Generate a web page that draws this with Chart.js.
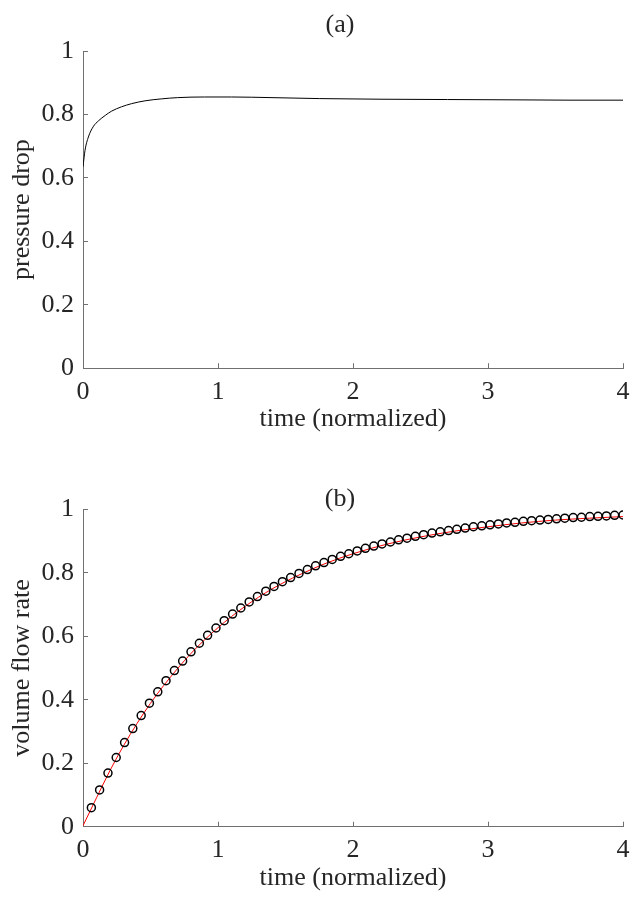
<!DOCTYPE html>
<html>
<head>
<meta charset="utf-8">
<script src="https://cdn.jsdelivr.net/npm/chart.js@4.4.1/dist/chart.umd.min.js"></script>
<style>
  html, body { margin: 0; padding: 0; background: #fff; overflow: hidden; }
  .panel { position: absolute; left: 0; width: 633px; height: 449px; }
  #panel-a { top: 0; }
  #panel-b { top: 449px; }
</style>
</head>
<body>
<div class="panel" id="panel-a"><canvas id="chart-a"></canvas></div>
<div class="panel" id="panel-b"><canvas id="chart-b"></canvas></div>
<script>
// ─── Data ─────────────────────────────────────────────────────────────────────

const xTicks = [0, 1, 2, 3, 4]
const yTicks = [0, 0.2, 0.4, 0.6, 0.8, 1]

// (a) pressure drop
const pressureTime = [0, 0.015, 0.04, 0.075, 0.115, 0.165, 0.21, 0.285, 0.36, 0.46, 0.58, 0.7, 0.9, 1.1, 1.4, 1.75, 2.2, 2.7, 3.2, 3.6, 4.0]
const pressureDrop = [0.635, 0.687, 0.729, 0.761, 0.780, 0.797, 0.810, 0.824, 0.834, 0.843, 0.849, 0.853, 0.855, 0.855, 0.853, 0.850, 0.848, 0.847, 0.846, 0.845, 0.845]

// (b) volume flow rate, markers
const flowTime = [
    0.062, 0.123, 0.185, 0.246, 0.308, 0.369, 0.431, 0.492, 0.554, 0.615,
    0.677, 0.738, 0.8, 0.862, 0.923, 0.985, 1.046, 1.108, 1.169, 1.231,
    1.292, 1.354, 1.415, 1.477, 1.538, 1.6, 1.662, 1.723, 1.785, 1.846,
    1.908, 1.969, 2.031, 2.092, 2.154, 2.215, 2.277, 2.338, 2.4, 2.462,
    2.523, 2.585, 2.646, 2.708, 2.769, 2.831, 2.892, 2.954, 3.015, 3.077,
    3.138, 3.2, 3.262, 3.323, 3.385, 3.446, 3.508, 3.569, 3.631, 3.692,
    3.754, 3.815, 3.877, 3.938, 4.0
]
const flowRate = [
    0.060, 0.116, 0.169, 0.218, 0.265, 0.309, 0.350, 0.389, 0.425, 0.460,
    0.492, 0.522, 0.551, 0.578, 0.603, 0.626, 0.649, 0.670, 0.689, 0.708,
    0.725, 0.742, 0.757, 0.772, 0.785, 0.798, 0.810, 0.822, 0.832, 0.842,
    0.852, 0.860, 0.869, 0.877, 0.884, 0.891, 0.897, 0.904, 0.909, 0.915,
    0.920, 0.925, 0.929, 0.933, 0.937, 0.941, 0.945, 0.948, 0.951, 0.954,
    0.957, 0.959, 0.962, 0.964, 0.966, 0.968, 0.970, 0.972, 0.974, 0.975,
    0.977, 0.978, 0.979, 0.981, 0.982
]

// (b) red reference curve
const fitTime = [0, 0.1, 0.2, 0.3, 0.4, 0.5, 0.6, 0.8, 1.0, 1.2, 1.4, 1.6, 1.8, 2.0, 2.25, 2.5, 2.75, 3.0, 3.25, 3.5, 3.75, 4.0]
const fitRate = [0.003, 0.091, 0.177, 0.255, 0.325, 0.389, 0.446, 0.546, 0.627, 0.694, 0.749, 0.793, 0.830, 0.860, 0.890, 0.913, 0.931, 0.945, 0.957, 0.966, 0.972, 0.977]

// ─── Common style ─────────────────────────────────────────────────────────────

const TEXT = '#262626'
const AXIS = '#707070'
const FONT = { family: '"Liberation Serif", "Times New Roman", serif', size: 26, lineHeight: 1.2 }

Chart.defaults.font.family = FONT.family
Chart.defaults.color = TEXT

const pts = (xs, ys) => xs.map((x, i) => ({ x, y: ys[i] }))

function scales(xTitle, yTitle) {
    return {
        x: {
            type: 'linear', min: 0, max: 4,
            afterBuildTicks: s => { s.ticks = xTicks.map(v => ({ value: v })) },
            afterFit: s => { s.height = 67; s.paddingLeft = 0; s.paddingRight = 0 },
            border: { display: true, color: AXIS, width: 1 },
            grid: { drawOnChartArea: false, drawTicks: true, tickLength: -5, color: AXIS },
            ticks: { font: FONT, color: TEXT, padding: 13, maxRotation: 0, callback: v => String(v) },
            title: { display: true, text: xTitle, font: FONT, color: TEXT, padding: { top: 0, bottom: 0 } },
        },
        y: {
            type: 'linear', min: 0, max: 1,
            afterBuildTicks: s => { s.ticks = yTicks.map(v => ({ value: v })) },
            afterFit: s => { s.width = 83 },
            border: { display: true, color: AXIS, width: 1 },
            grid: { drawOnChartArea: false, drawTicks: true, tickLength: -5, color: AXIS },
            ticks: { font: FONT, color: TEXT, padding: 14, callback: v => String(v) },
            title: { display: true, text: yTitle, font: FONT, color: TEXT, padding: { top: 7, bottom: 0 } },
        },
    }
}

function baseOptions(title, titlePad, layoutPad, xTitle, yTitle) {
    return {
        responsive: true,
        maintainAspectRatio: false,
        devicePixelRatio: 1,
        animation: false,
        layout: { padding: layoutPad },
        plugins: {
            legend: { display: false },
            tooltip: { enabled: false },
            title: {
                display: true, text: title, fullSize: false,
                font: { ...FONT, weight: 'normal' }, color: TEXT,
                padding: titlePad,
            },
        },
        scales: scales(xTitle, yTitle),
    }
}

// ─── (a) ──────────────────────────────────────────────────────────────────────

new Chart(document.getElementById('chart-a'), {
    type: 'line',
    data: {
        datasets: [{
            data: pts(pressureTime, pressureDrop),
            borderColor: '#000',
            borderWidth: 1,
            pointRadius: 0,
            cubicInterpolationMode: 'monotone',
        }]
    },
    options: baseOptions('(a)    ', { top: 9.5, bottom: 10.3 },
        { left: 0, right: 10, top: 0, bottom: 13.8 },
        'time (normalized)', 'pressure drop'),
})

// ─── (b) ──────────────────────────────────────────────────────────────────────

new Chart(document.getElementById('chart-b'), {
    type: 'line',
    data: {
        datasets: [{
            data: pts(flowTime, flowRate),
            showLine: false,
            pointStyle: 'circle',
            pointRadius: 4,
            pointBorderWidth: 1.5,
            pointBorderColor: '#000',
            pointBackgroundColor: 'rgba(0,0,0,0)',
            order: 0,
        }, {
            data: pts(fitTime, fitRate),
            borderColor: '#ff0000',
            borderWidth: 1,
            pointRadius: 0,
            cubicInterpolationMode: 'monotone',
            order: 1,
        }]
    },
    options: baseOptions('(b)    ', { top: 35, bottom: -5.9 },
        { left: 0, right: 10, top: 0, bottom: 4.3 },
        'time (normalized)', 'volume flow rate'),
})
</script>
</body>
</html>
